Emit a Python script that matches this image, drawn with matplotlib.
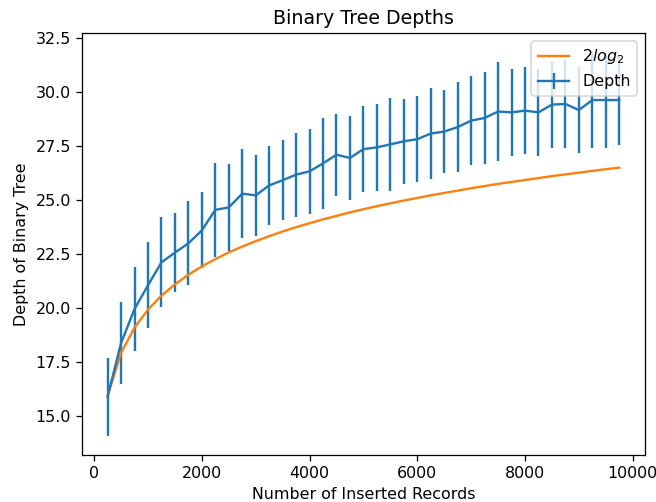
import matplotlib
matplotlib.use("Agg")
import matplotlib.pyplot as plt

# number of inserted records
records = [250, 500, 750, 1000, 1250, 1500, 1750, 2000, 2250, 2500,
           2750, 3000, 3250, 3500, 3750, 4000, 4250, 4500, 4750, 5000,
           5250, 5500, 5750, 6000, 6250, 6500, 6750, 7000, 7250, 7500,
           7750, 8000, 8250, 8500, 8750, 9000, 9250, 9500, 9750]

# mean depth and its spread
depth = [15.90, 18.38, 19.96, 21.06, 22.12, 22.57, 23.00, 23.60, 24.55, 24.66,
         25.30, 25.22, 25.68, 25.92, 26.18, 26.33, 26.70, 27.10, 26.95, 27.36,
         27.44, 27.58, 27.72, 27.82, 28.08, 28.17, 28.38, 28.68, 28.80, 29.10,
         29.06, 29.14, 29.06, 29.42, 29.45, 29.17, 29.63, 29.63, 29.63]
depth_err = [1.80, 1.91, 1.95, 2.00, 2.08, 1.84, 1.94, 1.76, 2.18, 2.03,
             2.06, 1.89, 1.81, 1.85, 1.94, 1.96, 2.10, 1.89, 1.95, 1.98,
             2.00, 2.14, 1.96, 1.98, 2.11, 1.93, 2.08, 2.05, 2.12, 2.30,
             2.01, 2.00, 2.03, 2.00, 2.03, 2.00, 2.21, 2.20, 2.08]

# 2*log2(n) reference curve
two_log2 = [15.93, 17.93, 19.10, 19.93, 20.58, 21.10, 21.55, 21.93, 22.27, 22.58,
            22.85, 23.10, 23.33, 23.55, 23.75, 23.93, 24.11, 24.27, 24.43, 24.58,
            24.72, 24.85, 24.98, 25.10, 25.22, 25.33, 25.44, 25.55, 25.65, 25.75,
            25.84, 25.93, 26.02, 26.11, 26.19, 26.27, 26.35, 26.43, 26.50]

# drawn a bit smaller and at higher dpi so text/lines scale like the original
fig, ax = plt.subplots(figsize=(656 / 114, 502 / 114), dpi=114)
fig.subplots_adjust(left=0.125, right=0.983, top=0.934, bottom=0.094)

ax.errorbar(records, depth, yerr=depth_err, color="tab:blue", label="Depth")
ax.plot(records, two_log2, color="tab:orange", label="$2log_2$")

ax.set_title("Binary Tree Depths")
ax.set_xlabel("Number of Inserted Records")
ax.set_ylabel("Depth of Binary Tree")
ax.legend(loc="upper right")

plt.savefig("out.png", dpi=114)
